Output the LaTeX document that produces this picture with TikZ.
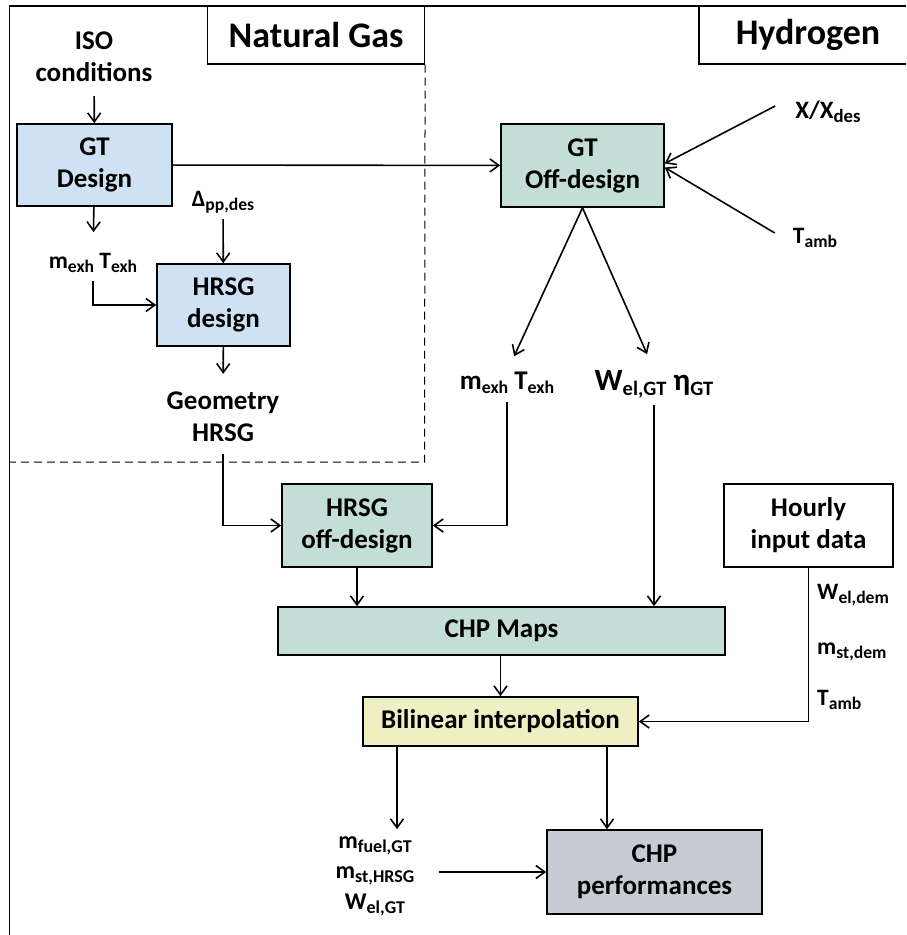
\documentclass[tikz,border=0pt]{standalone}
\usepackage{fontspec}
\setmainfont{Carlito}
\usepackage{graphicx}
\usetikzlibrary{arrows.meta,positioning,calc}

\definecolor{dsgnblue}{RGB}{207,226,243}
\definecolor{offteal}{RGB}{194,222,214}
\definecolor{interpyel}{RGB}{238,240,196}
\definecolor{perfgrey}{RGB}{200,204,210}

\newcommand{\lowtxt}[2][0.75]{\raisebox{-0.35ex}{\scalebox{#1}{#2}}}

\begin{document}
\begin{tikzpicture}[x=1pt,y=-1pt]
  %----- styles
  \tikzset{
    box/.style  ={draw,line width=1.6pt,align=center,inner sep=0pt,font=\fontsize{27}{32}\selectfont\bfseries},
    dsgn/.style ={box,fill=dsgnblue},
    offd/.style ={box,fill=offteal},
    lbl/.style 2 args={align=center,inner sep=0pt,font=\fontsize{#1}{#2}\selectfont\bfseries},
    tag/.style  ={inner sep=0pt,font=\fontsize{36}{42}\selectfont\bfseries},
    arrow/.style={-{Straight Barb[length=9pt,width=13pt]},line width=1.6pt},
    frame/.style={line width=1.5pt},
    zone/.style ={dash pattern=on 8pt off 5pt,line width=1pt}
  }

  \useasboundingbox (0,0) rectangle (906,935);

  %==================== FRAME ====================
  \coordinate (tl) at (9.5,6);
  \coordinate (tr) at (906,6);
  \coordinate (bl) at (9.5,935);
  \draw[frame] (tr) -- (tl) -- (bl);

  % fuel tags
  \node[tag,draw,line width=1.2pt,minimum width=217pt,minimum height=58pt] (ng) at (316,35) {Natural Gas};
  \node[tag] (h2) at (808,35) {Hydrogen};
  \coordinate (h2c) at (699,64);
  \draw[line width=1.2pt] (h2c -| tr) -- (h2c) -- (h2c |- tr);

  % natural gas zone (dashed)
  \coordinate (ngc) at (424.5,462);
  \draw[zone] (ng.south east) -- (ngc) -- (ngc -| tl);

  %----- nodes
  % design side
  \node[lbl={27}{32}] (iso) at (94,57) {ISO\\conditions};
  \node[dsgn,minimum width=155pt,minimum height=82pt] (gtd) at (94.5,165) {GT\\Design};
  \node[lbl={23.5}{28}] (mexhA) at (93,263) {m\lowtxt{exh} T\lowtxt{exh}};
  \node[lbl={23.5}{28}] (dpp) at (223,202) {Δ\lowtxt{pp,des}};
  \node[dsgn,minimum width=133pt,minimum height=82pt] (hrsgd) at (223.5,305) {HRSG\\design};
  \node[lbl={27}{32}] (geo) at (223,417) {Geometry\\HRSG};

  % off-design side
  \node[offd,minimum width=163pt,minimum height=83pt] (gtoff) at (582.5,165.5) {GT\\Off-design};
  \node[lbl={25}{30}] (xdes) at (828,112) {X/X\lowtxt{des}};
  \node[lbl={23.5}{28}] (tamb) at (815,238) {T\lowtxt{amb}};
  \node[lbl={27}{32}] (mexhB) at (507,383) {m\lowtxt[0.66]{exh} T\lowtxt[0.66]{exh}};
  \node[lbl={31}{36}] (welgt) at (654,384) {W\lowtxt[0.66]{el,GT} η\lowtxt[0.66]{GT}};
  \node[offd,minimum width=150pt,minimum height=83pt] (hrsgoff) at (357,525.5) {HRSG\\off-design};
  \node[offd,minimum width=447pt,minimum height=48pt] (chpmaps) at (501.5,631) {CHP Maps};

  % hourly data
  \node[box,minimum width=169pt,minimum height=83pt] (hourly) at (808.5,525.5) {Hourly\\input data};
  \node[lbl={23.5}{28},anchor=west] (weldem) at (817,595) {W\lowtxt{el,dem}};
  \node[lbl={23.5}{28},anchor=west] (mstdem) at (817,652) {m\lowtxt{st,dem}};
  \node[lbl={23.5}{28},anchor=west] (tambh) at (817,700) {T\lowtxt{amb}};

  % interpolation and results
  \node[box,fill=interpyel,minimum width=275pt,minimum height=49pt] (bilin) at (500.5,721.5) {Bilinear interpolation};
  \node[lbl={24}{30.5}] (outs) at (375,876) {m\lowtxt{fuel,GT}\\m\lowtxt{st,HRSG}\\W\lowtxt{el,GT}};
  \node[box,fill=perfgrey,minimum width=215pt,minimum height=84pt] (chpperf) at (654.5,872) {CHP\\performances};
  \coordinate (colL) at (397,0);
  \coordinate (colR) at (607,0);

  %----- connections
  % design chain
  \draw[arrow,shorten <=14pt] (iso) -- (gtd);
  \draw[arrow,shorten >=21pt] (gtd) -- (mexhA);
  \draw[arrow,shorten <=8pt] (mexhA.south) |- (hrsgd.west);
  \draw[arrow,shorten <=6pt] (dpp) -- (hrsgd);
  \draw[arrow,shorten >=18pt] (hrsgd) -- (geo);
  \draw[arrow,shorten <=12pt] (geo.south) |- (hrsgoff.west);

  % off-design chain
  \draw[arrow] (gtd) -- (gtoff);
  \draw[arrow] ($(xdes.west)+(-20,-6)$) -- ($(gtoff.east)+(0,-2)$);
  \draw[arrow] ($(tamb.west)+(-18,-5)$) -- ($(gtoff.east)+(0,2)$);
  \draw[arrow,shorten >=17pt] (gtoff.south) -- (mexhB.north);
  \draw[arrow,shorten >=17pt] (gtoff.south) -- (welgt.north);
  \draw[arrow,shorten <=8pt] (mexhB.south) |- (hrsgoff.east);
  \draw[arrow,shorten <=7pt] (welgt.south) -- (welgt.south |- chpmaps.north);
  \draw[arrow] (hrsgoff) -- (hrsgoff |- chpmaps.north);

  % maps -> interpolation -> performances
  \draw[arrow] (chpmaps.south -| bilin.north) -- (bilin.north);
  \draw[arrow] (hourly.south) |- (bilin.east);
  \draw[arrow,shorten >=7pt] (bilin.south -| colL) -- (outs.north -| colL);
  \draw[arrow] (bilin.south -| colR) -- (chpperf.north -| colR);
  \draw[arrow,shorten <=24pt] (outs.east |- chpperf.west) -- (chpperf.west);

\end{tikzpicture}
\end{document}
